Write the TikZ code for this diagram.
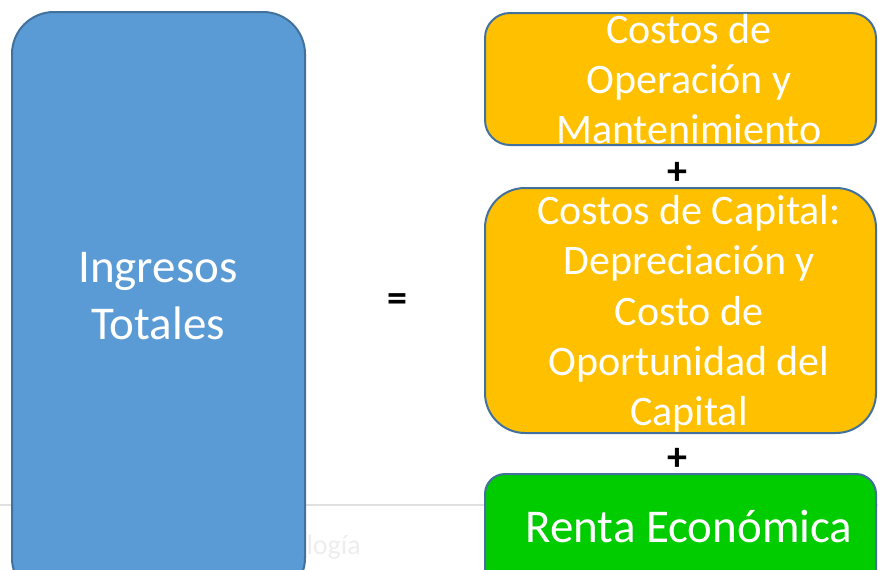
\documentclass[tikz,border=0pt]{standalone}
\usepackage{fontspec}
\setmainfont{Carlito}
\definecolor{cajaazul}{HTML}{5B9BD5}
\definecolor{borde}{HTML}{41719C}
\definecolor{cajanaranja}{HTML}{FFC000}
\definecolor{cajaverde}{HTML}{00CC00}
\tikzset{
  caja/.style={draw=borde, line width=2pt},
  textogrande/.style={text=white, align=center, font=\fontsize{47}{57}\selectfont},
  textomedio/.style={text=white, align=center, font=\fontsize{42}{50.3}\selectfont},
  signo/.style={text=black, font=\fontsize{40}{48}\selectfont\bfseries},
}
\begin{document}
\begin{tikzpicture}[x=1pt,y=-1pt]
    \useasboundingbox (0,0) rectangle (878,570);
    % fondo de la diapositiva
    \draw[black!12, line width=2pt] (0,505) -- (878,505);
    \node[anchor=west, text=black!7, font=\fontsize{28}{34}\selectfont] (marca) at (303,547) {logía};
    % cajas
    \filldraw[caja, fill=cajaazul, rounded corners=42pt] (12,12) rectangle (305,600);
    \filldraw[caja, fill=cajanaranja, rounded corners=25pt] (485,13) rectangle (876,145);
    \filldraw[caja, fill=cajanaranja, rounded corners=40pt] (485,188) rectangle (876,433);
    \filldraw[caja, fill=cajaverde, rounded corners=20pt] (485,474) rectangle (876,600);
    % textos
    \node[textogrande] (ingresos) at (158,296) {Ingresos\\Totales};
    \node[signo] (igual) at (397,303) {=};
    \node[textomedio] (operacion) at (689,79) {Costos de\\Operación y\\Mantenimiento};
    \node[signo] (mas1) at (677,173) {+};
    \node[textomedio] (capital) at (689,314) {Costos de Capital:\\Depreciación y\\Costo de\\Oportunidad del\\Capital};
    \node[signo] (mas2) at (677,459) {+};
    \node[textogrande] (renta) at (689,526) {Renta Económica};
\end{tikzpicture}
\end{document}
